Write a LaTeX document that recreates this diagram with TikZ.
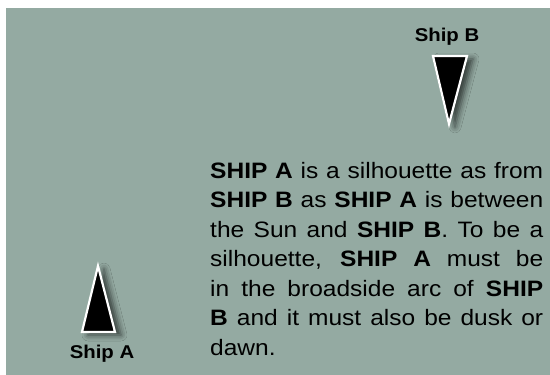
\documentclass[tikz,border=0pt]{standalone}
\usepackage{fontspec}
\setmainfont{Liberation Sans}[FakeStretch=1.1]
\usetikzlibrary{shadows.blur}
\definecolor{panelgrey}{HTML}{94AAA2}
\begin{document}
\begin{tikzpicture}[x=1pt, y=-1pt, font=\bfseries\fontsize{18.5}{21}\selectfont,
  ship/.style={fill=black, draw=white, line width=2.2pt, line join=miter,
    blur shadow={shadow xshift=6pt, shadow yshift=-3pt, shadow blur radius=6pt, shadow opacity=65}}]
  \useasboundingbox (0,0) rectangle (550,375);
  \fill[panelgrey] (6,8) rectangle (550,375);
  \draw[ship] (433,56) -- (467,56) -- (449,124) -- cycle;
  \node (labelB) at (447,37) {Ship B};
  \draw[ship] (98,266) -- (115,332) -- (82,332) -- cycle;
  \node (labelA) at (102,354) {Ship A};
  \node[anchor=base west, text width=333pt, align=justify, inner sep=0pt,
    font=\normalfont\fontsize{22.3}{29.5}\selectfont] (caption) at (210,178)
    {\tolerance=9999 \textbf{SHIP A} is a silhouette as from\linebreak
     \textbf{SHIP B} as \textbf{SHIP A} is between\linebreak
     the Sun and \textbf{SHIP B}. To be a\linebreak
     silhouette, \textbf{SHIP A} must be\linebreak
     in the broadside arc of \textbf{SHIP}\linebreak
     \textbf{B} and it must also be dusk or\linebreak
     dawn.};
\end{tikzpicture}
\end{document}
